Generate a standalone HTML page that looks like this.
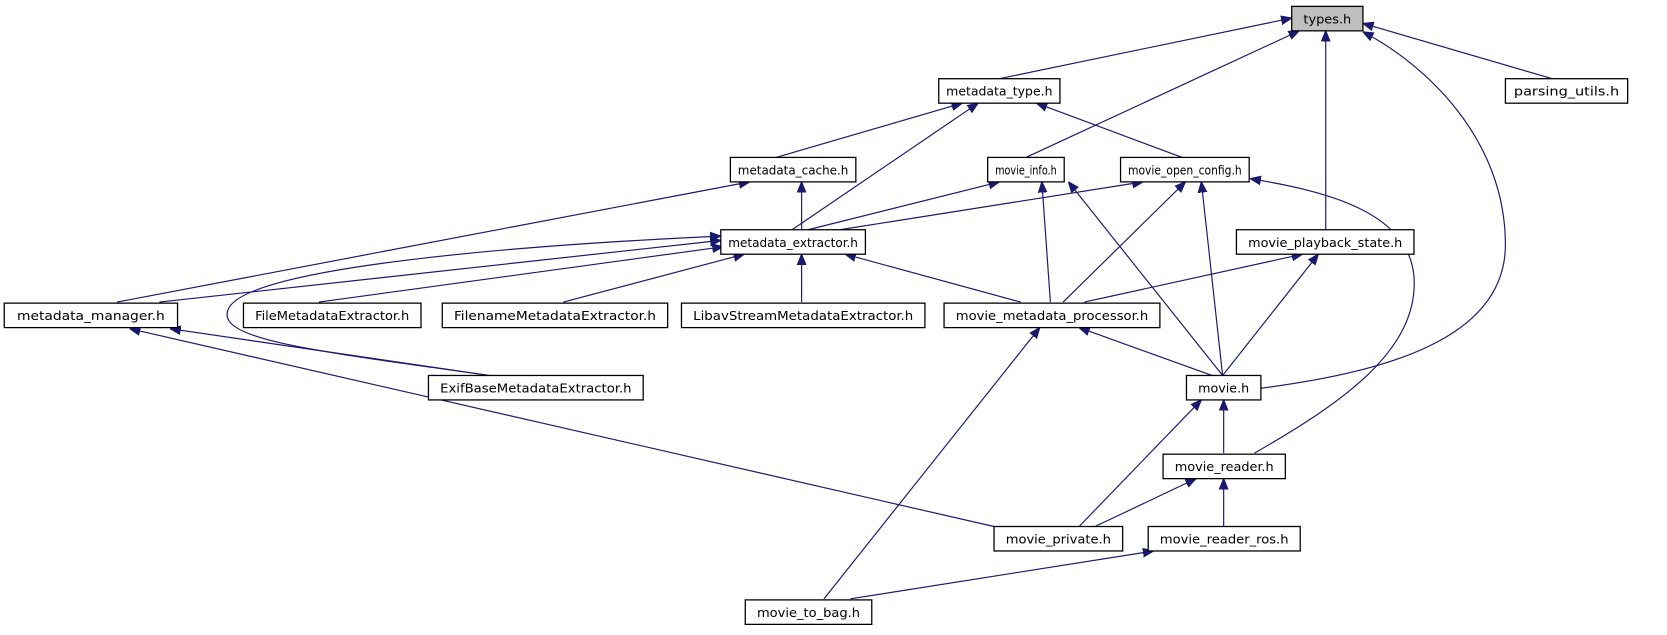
<!DOCTYPE html>
<html><head><meta charset="utf-8"><style>
html,body{margin:0;padding:0;background:#fff;width:1667px;height:635px;overflow:hidden}
svg{display:block}
text{font-family:"DejaVu Sans Condensed","DejaVu Sans","Liberation Sans",sans-serif;font-size:12px;fill:#000}
rect{fill:#fff;stroke:#000;stroke-width:1.2}
path,line{stroke:#191970;stroke-width:1.1;fill:none}
</style></head><body>
<svg width="1667" height="635" viewBox="0 0 1568 597" preserveAspectRatio="none" xmlns="http://www.w3.org/2000/svg">
<defs><marker id="a" viewBox="0 0 10 10" refX="10" refY="5" markerWidth="10" markerHeight="10" markerUnits="userSpaceOnUse" orient="auto"><path d="M0,1 L10,5 L0,9 Z" style="fill:#191970;stroke:#191970"/></marker></defs>
<g marker-end="url(#a)">
<path d="M940,74 L1215,17"/>
<path d="M965,148 L1222,29"/>
<path d="M1247,216 L1247,29"/>
<path d="M1186,365 C1300,350 1416,320 1416,230 C1416,130 1340,60 1282,30"/>
<path d="M1460,74 L1282,22"/>
<path d="M730,148 L905,97"/>
<path d="M745,216 L920,97"/>
<path d="M1112,148 L975,97"/>
<path d="M110,284 L705,171"/>
<path d="M754,216 L754,171"/>
<path d="M760,216 L940,171"/>
<path d="M790,216 L1075,171"/>
<path d="M988,284 L980,171"/>
<path d="M1150,353 L1005,171"/>
<path d="M1000,284 L1115,171"/>
<path d="M1150,353 L1130,171"/>
<path d="M1180,426 C1260,380 1335,330 1330,260 C1325,200 1250,180 1176,168"/>
<path d="M150,284 L678,226"/>
<path d="M300,284 L680,232"/>
<path d="M530,284 L700,239"/>
<path d="M754,284 L754,239"/>
<path d="M960,284 L795,239"/>
<path d="M460,353 C300,330 200,320 215,290 C235,250 500,230 678,222"/>
<path d="M460,353 L160,309"/>
<path d="M1020,284 L1225,239"/>
<path d="M1140,353 L1015,308"/>
<path d="M1150,353 L1240,239"/>
<path d="M775,563 L978,308"/>
<path d="M935,495 L122,309"/>
<path d="M1015,495 L1130,376"/>
<path d="M1030,495 L1125,450"/>
<path d="M1151,426 L1151,376"/>
<path d="M1151,495 L1151,450"/>
<path d="M800,563 L1085,518"/>
</g>
<g text-anchor="middle">
<rect x="1215" y="6" width="67" height="23" style="fill:#bfbfbf"/><text x="1248.5" y="22" textLength="45" lengthAdjust="spacingAndGlyphs">types.h</text>
<rect x="883" y="74" width="114" height="23"/><text x="940" y="90" textLength="100" lengthAdjust="spacingAndGlyphs">metadata_type.h</text>
<rect x="1416" y="74" width="115" height="23"/><text x="1473.5" y="90" textLength="99" lengthAdjust="spacingAndGlyphs">parsing_utils.h</text>
<rect x="687" y="148" width="118" height="23"/><text x="746" y="164" textLength="104" lengthAdjust="spacingAndGlyphs">metadata_cache.h</text>
<rect x="929" y="148" width="72" height="23"/><text x="965" y="164" textLength="58" lengthAdjust="spacingAndGlyphs">movie_info.h</text>
<rect x="1054" y="148" width="121" height="23"/><text x="1114.5" y="164" textLength="107" lengthAdjust="spacingAndGlyphs">movie_open_config.h</text>
<rect x="678" y="216" width="136" height="23"/><text x="746" y="232" textLength="122" lengthAdjust="spacingAndGlyphs">metadata_extractor.h</text>
<rect x="1163" y="216" width="167" height="23"/><text x="1246.5" y="232" textLength="145" lengthAdjust="spacingAndGlyphs">movie_playback_state.h</text>
<rect x="4" y="285" width="163" height="23"/><text x="85.5" y="301" textLength="139" lengthAdjust="spacingAndGlyphs">metadata_manager.h</text>
<rect x="229" y="285" width="167" height="23"/><text x="312.5" y="301" textLength="145" lengthAdjust="spacingAndGlyphs">FileMetadataExtractor.h</text>
<rect x="416" y="285" width="212" height="23"/><text x="522" y="301" textLength="190" lengthAdjust="spacingAndGlyphs">FilenameMetadataExtractor.h</text>
<rect x="641" y="285" width="229" height="23"/><text x="755.5" y="301" textLength="207" lengthAdjust="spacingAndGlyphs">LibavStreamMetadataExtractor.h</text>
<rect x="888" y="285" width="203" height="23"/><text x="989.5" y="301" textLength="181" lengthAdjust="spacingAndGlyphs">movie_metadata_processor.h</text>
<rect x="403" y="353" width="202" height="23"/><text x="504" y="369" textLength="180" lengthAdjust="spacingAndGlyphs">ExifBaseMetadataExtractor.h</text>
<rect x="1116" y="353" width="70" height="23"/><text x="1151" y="369" textLength="48" lengthAdjust="spacingAndGlyphs">movie.h</text>
<rect x="1094" y="427" width="115" height="23"/><text x="1151.5" y="443" textLength="93" lengthAdjust="spacingAndGlyphs">movie_reader.h</text>
<rect x="935" y="495" width="121" height="23"/><text x="995.5" y="511" textLength="99" lengthAdjust="spacingAndGlyphs">movie_private.h</text>
<rect x="1080" y="495" width="143" height="23"/><text x="1151.5" y="511" textLength="121" lengthAdjust="spacingAndGlyphs">movie_reader_ros.h</text>
<rect x="701" y="564" width="119" height="23"/><text x="760.5" y="580" textLength="97" lengthAdjust="spacingAndGlyphs">movie_to_bag.h</text>
</g>
</svg>
</body></html>
